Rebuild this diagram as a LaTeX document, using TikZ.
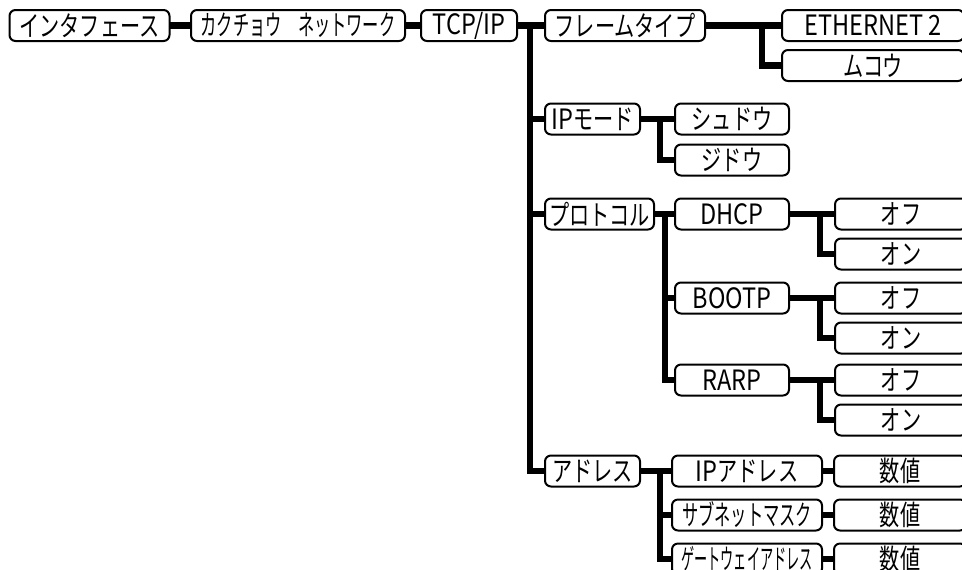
\documentclass[tikz,border=0pt]{standalone}
\usepackage{fontspec}
\newfontfamily\mtkana[FakeStretch=0.72]{Noto Sans CJK JP}
\newfontfamily\mthalf[FakeStretch=0.58]{Noto Sans CJK JP}
\newfontfamily\mtnarrow[FakeStretch=0.47]{Noto Sans CJK JP}
\newfontfamily\mtlatin[FakeStretch=0.84]{Noto Sans CJK JP}
\usetikzlibrary{positioning}
\tikzset{
  mt/box/.style={rectangle, rounded corners=3pt, draw=black, fill=white,
    line width=1pt, minimum height=15.5pt, inner sep=0pt, outer sep=0pt,
    font=\fontsize{14}{15}\mtkana, align=center},
  mt/half/.style={mt/box, font=\fontsize{14}{15}\mthalf},
  mt/narrow/.style={mt/box, font=\fontsize{14}{15}\mtnarrow},
  mt/latin/.style={mt/box, font=\fontsize{14}{15}\mtlatin},
  mt/link/.style={line width=3.25pt, line join=miter, draw=black}
}

\begin{document}
\begin{tikzpicture}
  \useasboundingbox (0,0) rectangle (481pt,-284.5pt);
  \clip (0,0) rectangle (481pt,-284.5pt);
  \node[mt/box, minimum width=80pt, anchor=west] (ifc) at (4.75pt,-12.75pt) {インタフェース};
  \node[mt/half, minimum width=107pt, right=10.75pt of ifc] (kak) {カクチョウ　ネットワーク};
  \node[mt/latin, minimum width=48pt, right=8pt of kak] (tcp) {TCP/IP};
  \node[mt/box, minimum width=80pt, right=14pt of tcp] (ftype) {フレームタイプ};
  \node[mt/latin, minimum width=91pt, right=38.5pt of ftype] (eth) {ETHERNET 2};
  \node[mt/box, minimum width=91pt, below=4.5pt of eth] (mukou) {ムコウ};

  \node[mt/box, minimum width=47.5pt, below=31.25pt of ftype.south west,
        anchor=north west] (ipmode) {{\mtlatin IP}モード};
  \node[mt/box, minimum width=57pt, right=17.5pt of ipmode] (shudo) {シュドウ};
  \node[mt/box, minimum width=57pt, below=5pt of shudo] (jido) {ジドウ};

  \node[mt/box, minimum width=54.5pt, below=32pt of ipmode.south west,
        anchor=north west] (proto) {プロトコル};
  \node[mt/latin, minimum width=57pt, right=10.5pt of proto] (dhcp) {DHCP};
  \node[mt/box, minimum width=66pt, right=23pt of dhcp] (dhcpoff) {オフ};
  \node[mt/box, minimum width=66pt, below=4.5pt of dhcpoff] (dhcpon) {オン};
  \node[mt/latin, minimum width=57pt, below=26.5pt of dhcp] (bootp) {BOOTP};
  \node[mt/box, minimum width=66pt, right=23pt of bootp] (bootpoff) {オフ};
  \node[mt/box, minimum width=66pt, below=4.5pt of bootpoff] (bootpon) {オン};
  \node[mt/latin, minimum width=57pt, below=25.5pt of bootp] (rarp) {RARP};
  \node[mt/box, minimum width=66pt, right=23pt of rarp] (rarpoff) {オフ};
  \node[mt/box, minimum width=66pt, below=4.5pt of rarpoff] (rarpon) {オン};

  \node[mt/box, minimum width=47.5pt, below=113pt of proto.south west,
        anchor=north west] (addr) {アドレス};
  \node[mt/box, minimum width=75pt, right=16pt of addr] (ipaddr) {{\mtlatin IP}アドレス};
  \node[mt/box, minimum width=66pt, right=6pt of ipaddr] (ipval) {数値};
  \node[mt/half, minimum width=75pt, below=6.5pt of ipaddr] (subnet) {サブネットマスク};
  \node[mt/box, minimum width=66pt, right=6pt of subnet] (subval) {数値};
  \node[mt/narrow, minimum width=75pt, below=6.5pt of subnet] (gw) {ゲートウェイアドレス};
  \node[mt/box, minimum width=66pt, right=6pt of gw] (gwval) {数値};

  \draw[mt/link] (ifc) -- (kak);
  \draw[mt/link] (kak) -- (tcp);
  \draw[mt/link] (tcp) -- (ftype);
  \draw[mt/link] (tcp.east) -- ++(6.5pt,0) |- (ipmode.west);
  \draw[mt/link] (tcp.east) -- ++(6.5pt,0) |- (proto.west);
  \draw[mt/link] (tcp.east) -- ++(6.5pt,0) |- (addr.west);
  \draw[mt/link] (ftype) -- (eth);
  \draw[mt/link] (ftype.east) -- ++(28.5pt,0) |- (mukou.west);
  \draw[mt/link] (ipmode) -- (shudo);
  \draw[mt/link] (ipmode.east) -- ++(10pt,0) |- (jido.west);
  \draw[mt/link] (proto) -- (dhcp);
  \draw[mt/link] (proto.east) -- ++(5.5pt,0) |- (bootp.west);
  \draw[mt/link] (proto.east) -- ++(5.5pt,0) |- (rarp.west);
  \draw[mt/link] (dhcp) -- (dhcpoff);
  \draw[mt/link] (dhcp.east) -- ++(15.5pt,0) |- (dhcpon.west);
  \draw[mt/link] (bootp) -- (bootpoff);
  \draw[mt/link] (bootp.east) -- ++(15.5pt,0) |- (bootpon.west);
  \draw[mt/link] (rarp) -- (rarpoff);
  \draw[mt/link] (rarp.east) -- ++(15.5pt,0) |- (rarpon.west);
  \draw[mt/link] (addr) -- (ipaddr);
  \draw[mt/link] (addr.east) -- ++(10pt,0) |- (subnet.west);
  \draw[mt/link] (addr.east) -- ++(10pt,0) |- (gw.west);
  \draw[mt/link] (ipaddr) -- (ipval);
  \draw[mt/link] (subnet) -- (subval);
  \draw[mt/link] (gw) -- (gwval);
\end{tikzpicture}
\end{document}
